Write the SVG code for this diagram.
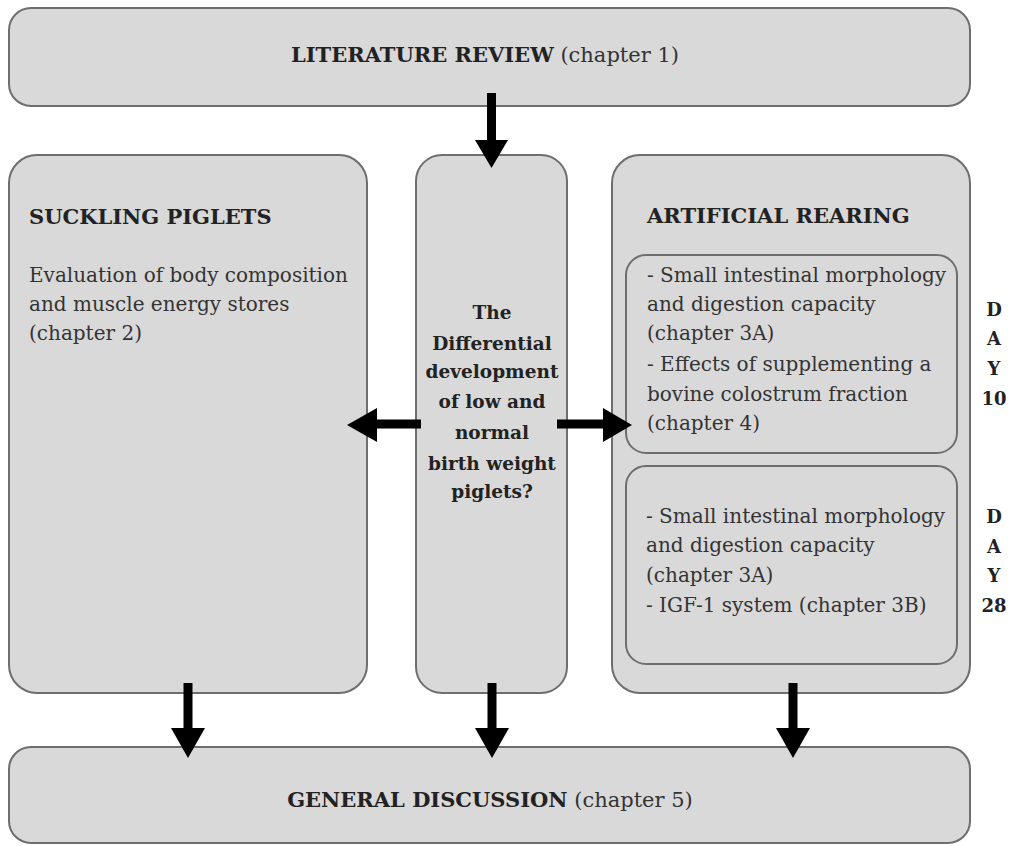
<svg xmlns="http://www.w3.org/2000/svg" width="1012" height="846" viewBox="0 0 1012 846">
<defs>
<style>
.box{fill:#d9d9d9;stroke:#6e6e6e;stroke-width:2}
.inner{fill:#d9d9d9;stroke:#6e6e6e;stroke-width:2}
text{font-family:"DejaVu Serif","Liberation Serif",serif;fill:#333;font-size:20px}
.b{font-weight:bold;fill:#222}
.t{font-size:21px}
.m{font-size:18.5px}
.d{font-size:18px}
.c{text-anchor:middle}
.arr{stroke:#000;stroke-width:9;fill:none}
.hd{fill:#000;stroke:none}
</style>
</defs>
<rect width="1012" height="846" fill="#fff"/>
<g id="lit">
<rect class="box" x="9" y="8" width="961" height="98" rx="22"/>
<text class="c t" x="485" y="62"><tspan class="b">LITERATURE REVIEW</tspan> (chapter 1)</text>
</g>
<g id="suckling">
<rect class="box" x="9" y="155" width="358" height="538" rx="28"/>
<text class="b t" x="29" y="224">SUCKLING PIGLETS</text>
<text x="29" y="282">Evaluation of body composition</text>
<text x="29" y="311">and muscle energy stores</text>
<text x="29" y="340">(chapter 2)</text>
</g>
<g id="question">
<rect class="box" x="416" y="155" width="151" height="538" rx="26"/>
<text class="b c m" x="492" y="319">The</text>
<text class="b c m" x="492" y="350">Differential</text>
<text class="b c m" x="492" y="378">development</text>
<text class="b c m" x="492" y="408">of low and</text>
<text class="b c m" x="492" y="439">normal</text>
<text class="b c m" x="492" y="470">birth weight</text>
<text class="b c m" x="492" y="498">piglets?</text>
</g>
<g id="artificial">
<rect class="box" x="612" y="155" width="358" height="538" rx="28"/>
<text class="b t" x="647" y="223">ARTIFICIAL REARING</text>
</g>
<g id="day10">
<rect class="inner" x="626" y="255" width="331" height="198" rx="20"/>
<text x="647" y="282">- Small intestinal morphology</text>
<text x="647" y="311">and digestion capacity</text>
<text x="647" y="340">(chapter 3A)</text>
<text x="647" y="371">- Effects of supplementing a</text>
<text x="647" y="401">bovine colostrum fraction</text>
<text x="647" y="430">(chapter 4)</text>
<text class="b c d" x="994" y="316">D</text>
<text class="b c d" x="994" y="345">A</text>
<text class="b c d" x="994" y="375">Y</text>
<text class="b c d" x="994" y="405">10</text>
</g>
<g id="day28">
<rect class="inner" x="626" y="466" width="331" height="198" rx="20"/>
<text x="646" y="523">- Small intestinal morphology</text>
<text x="646" y="552">and digestion capacity</text>
<text x="646" y="582">(chapter 3A)</text>
<text x="646" y="612">- IGF-1 system (chapter 3B)</text>
<text class="b c d" x="994" y="523">D</text>
<text class="b c d" x="994" y="553">A</text>
<text class="b c d" x="994" y="582">Y</text>
<text class="b c d" x="994" y="612">28</text>
</g>
<g id="general">
<rect class="box" x="9" y="747" width="961" height="96" rx="22"/>
<text class="c t" x="490" y="807"><tspan class="b">GENERAL DISCUSSION</tspan> (chapter 5)</text>
</g>
<g id="connectors">
<line class="arr" x1="491.5" y1="93" x2="491.5" y2="142"/>
<polygon class="hd" points="475,140 508,140 491.5,168"/>
<line class="arr" x1="421" y1="424" x2="374" y2="424"/>
<polygon class="hd" points="377,408 377,442 347,425"/>
<line class="arr" x1="557" y1="424" x2="605" y2="424"/>
<polygon class="hd" points="603,408 603,442 632,425"/>
<line class="arr" x1="188" y1="683" x2="188" y2="730"/>
<polygon class="hd" points="171,728 205,728 188,758"/>
<line class="arr" x1="492" y1="683" x2="492" y2="730"/>
<polygon class="hd" points="475,728 509,728 492,758"/>
<line class="arr" x1="793" y1="683" x2="793" y2="730"/>
<polygon class="hd" points="776,728 810,728 793,758"/>
</g>
</svg>
